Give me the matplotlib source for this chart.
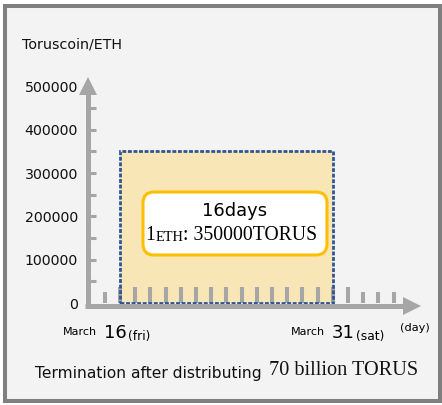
import matplotlib.pyplot as plt
from matplotlib.patches import Rectangle, FancyBboxPatch

# ---- data ----
days = list(range(15, 35))          # tick marks on the time axis (March)
sale_days = list(range(16, 32))     # March 16 .. March 31 (16 days)
start_day, end_day = 16, 30         # span of the shaded block
rate = 350000                       # TORUS per 1 ETH
y_ticks = [0, 100000, 200000, 300000, 400000, 500000]
y_minor = [50000 * k for k in range(1, 10)]

gray = '#a6a6a6'
fill = '#f9e6b6'
blue = '#2e5597'
orange = '#ffbf00'

W, H = 442, 405


def fx(px):
    return px / W


def fy(py):
    return 1 - py / H


fig = plt.figure(figsize=(W / 100, H / 100), dpi=100)
fig.patch.set_facecolor('white')
fig.add_artist(Rectangle((fx(4.5), fy(400.5)), fx(439.5) - fx(4.5), fy(6) - fy(400.5),
                         transform=fig.transFigure, fc='#f3f3f3', ec='#7f7f7f',
                         lw=2.9, zorder=-1))

ax = fig.add_axes([fx(85), fy(312), fx(430) - fx(85), fy(75) - fy(312)])
ax.set_facecolor('none')
for s in ax.spines.values():
    s.set_visible(False)
ax.set_xlim(13.697, 36.39)
ax.set_ylim(-20785, 526559)
ax.set_xticks([])
ax.set_yticks(y_ticks, labels=[str(v) for v in y_ticks])
ax.tick_params(axis='y', length=0, pad=5, labelsize=10.2, labelcolor='#111111')

# shaded block
ax.bar(start_day, rate, width=end_day - start_day, align='edge', color=fill,
       lw=0, zorder=1)

# day ticks
tall = 36950
short = 25400
for d in days:
    h = tall if d in sale_days else short
    ax.vlines(d, 0, h, color=gray, lw=2.9, zorder=2)

ax.bar(start_day, rate, width=end_day - start_day, align='edge', fill=False,
       edgecolor=blue, lw=2.0, ls=(0, (1.4, 0.6)), zorder=3)

# axes with arrows
axis_y = -5774
axis_x = 13.862
ax.plot([13.697, 35.2], [axis_y, axis_y], color=gray, lw=3.6,
        solid_capstyle='butt', clip_on=False, zorder=4)
ax.plot([35.2], [axis_y], marker='>', ms=12.5, color=gray, mew=0,
        clip_on=False, zorder=4)
ax.plot([axis_x, axis_x], [-11500, 501000], color=gray, lw=3.6,
        solid_capstyle='butt', clip_on=False, zorder=4)
ax.plot([axis_x], [501000], marker='^', ms=13.5, color=gray, mew=0,
        clip_on=False, zorder=4)
ax.hlines(y_minor, 14.03, 14.39, color=gray, lw=2.2, zorder=4)

# info box
ax.add_patch(FancyBboxPatch((1.43, (H - 255) / 100), 1.84, 0.63,
                            boxstyle='round,pad=0,rounding_size=0.11',
                            transform=fig.dpi_scale_trans, fc='white',
                            ec=orange, lw=2.2, zorder=5, clip_on=False))
ax.text(fx(235), fy(211), '16days', transform=fig.transFigure, ha='center',
        va='center', fontsize=12.9, zorder=6)
serif = 'Liberation Serif'
t1 = ax.text(fx(145), fy(239.5), '1', transform=fig.transFigure, ha='left',
             va='baseline', fontsize=14.2, family=serif, zorder=6)
t2 = ax.annotate('ETH', xy=(1, 0), xycoords=t1, xytext=(0.3, 0.3),
                 textcoords='offset points', ha='left', va='bottom',
                 fontsize=10.3, family=serif, zorder=6)
ax.annotate(': 350000TORUS', xy=(1, 0), xycoords=t2, xytext=(0, -0.3),
            textcoords='offset points', ha='left', va='bottom',
            fontsize=14.2, family=serif, zorder=6)

# axis titles
fig.text(fx(22), fy(44), 'Toruscoin/ETH', ha='left', va='center',
         fontsize=10.3, color='#111111')
fig.text(fx(415), fy(328), '(day)', ha='center', va='center', fontsize=8.2)

# date labels
for d, wd in [(16, '(fri)'), (31, '(sat)')]:
    n = ax.text(d - 0.3, -80800, str(d), ha='center', va='baseline',
                fontsize=13)
    ax.annotate('March', xy=(0, 0), xycoords=n, xytext=(-5, 3.5),
                textcoords='offset points', ha='right', va='bottom',
                fontsize=8)
    ax.annotate(wd, xy=(1, 0), xycoords=n, xytext=(0.5, -1),
                textcoords='offset points', ha='left', va='bottom',
                fontsize=8.8)

# bottom note
b1 = fig.text(fx(35), fy(378), 'Termination after distributing', ha='left',
              va='baseline', fontsize=11.2, color='#111111')
ax.annotate('70 billion TORUS', xy=(1, 0), xycoords=b1, xytext=(5, 0.5),
            textcoords='offset points', ha='left', va='bottom', fontsize=14.6,
            family=serif, color='#111111')

fig.savefig('out.png', dpi=100)
